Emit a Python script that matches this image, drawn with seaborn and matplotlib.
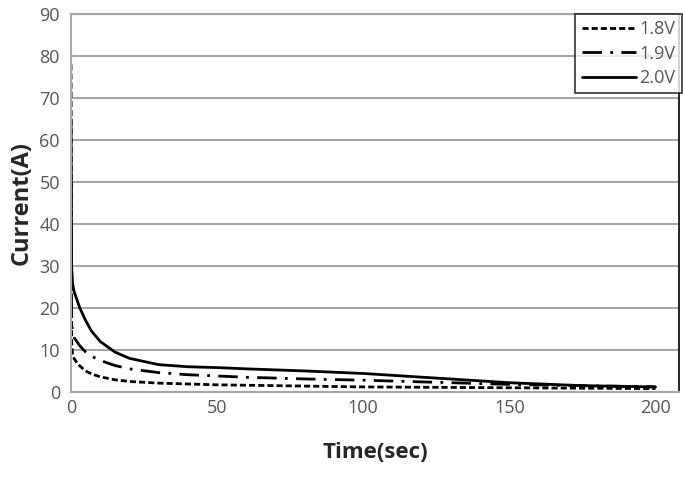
import numpy as np
import pandas as pd
import seaborn as sns
import matplotlib
matplotlib.use("Agg")
import matplotlib.pyplot as plt

# values
TIME   = [0, 0.2, 0.5, 1, 2, 3, 5, 7, 10, 15, 20, 30, 40, 50, 60, 80, 100, 125, 150, 175, 200]
I_18V  = [78, 12, 9.0, 8.0, 7.0, 6.2, 5.0, 4.3, 3.6, 2.9, 2.5, 2.1, 1.9, 1.7, 1.6, 1.4, 1.2, 1.1, 1.0, 0.9, 0.8]
I_19V  = [50, 17, 14.0, 13.0, 12.0, 11.0, 9.5, 8.5, 7.5, 6.3, 5.5, 4.6, 4.1, 3.8, 3.5, 3.1, 2.8, 2.3, 1.8, 1.5, 1.2]
I_20V  = [65, 30, 26.0, 24.0, 22.0, 20.0, 17.0, 14.5, 12.0, 9.5, 8.0, 6.5, 6.0, 5.8, 5.5, 5.0, 4.4, 3.3, 2.2, 1.5, 1.2]
LABELS = ["1.8V", "1.9V", "2.0V"]

df = pd.concat([
    pd.DataFrame({"time": TIME, "current": vals, "voltage": lab})
    for vals, lab in zip([I_18V, I_19V, I_20V], LABELS)
], ignore_index=True)

sns.set_style("white")
plt.rcParams["font.family"] = ["Open Sans", "DejaVu Sans"]

fig = plt.figure(figsize=(6.83, 4.78), dpi=100)
ax = fig.add_axes([0.104, 0.18, 0.89, 0.791])

dashes = {"1.8V": (2.2, 1.1), "1.9V": (7, 3, 1, 3), "2.0V": ""}
sns.lineplot(data=df, x="time", y="current", hue="voltage", style="voltage",
             palette=["black"] * 3, dashes=dashes, linewidth=2, ax=ax)

ax.set_xlim(0, 208)
ax.set_ylim(0, 90)
ax.set_xticks([0, 50, 100, 150, 200])
ax.set_yticks(range(0, 91, 10))
ax.yaxis.grid(True, color="#a6a6a6", linewidth=1.5)
ax.set_axisbelow(True)
ax.tick_params(length=0, labelsize=13, labelcolor="#555555")
ax.tick_params(axis="x", pad=5)
ax.tick_params(axis="y", pad=8)

for s in ["left", "bottom", "top"]:
    ax.spines[s].set_color("#a6a6a6")
    ax.spines[s].set_linewidth(1.5)
ax.spines["right"].set_color("black")
ax.spines["right"].set_linewidth(1.2)

ax.set_xlabel("Time(sec)", fontsize=16, fontweight="bold", labelpad=18)
ax.set_ylabel("Current(A)", fontsize=17, fontweight="bold", labelpad=4)

leg = ax.legend(title=None, loc="upper right", fontsize=13, frameon=True,
                fancybox=False, borderaxespad=0, handlelength=3.0,
                handletextpad=0.2, labelspacing=0.35, borderpad=0.35,
                bbox_to_anchor=(1.005, 1.0))
leg.get_frame().set_edgecolor("black")
leg.get_frame().set_linewidth(1.2)
for t in leg.get_texts():
    t.set_color("#555555")

fig.savefig("out.png", dpi=100)
